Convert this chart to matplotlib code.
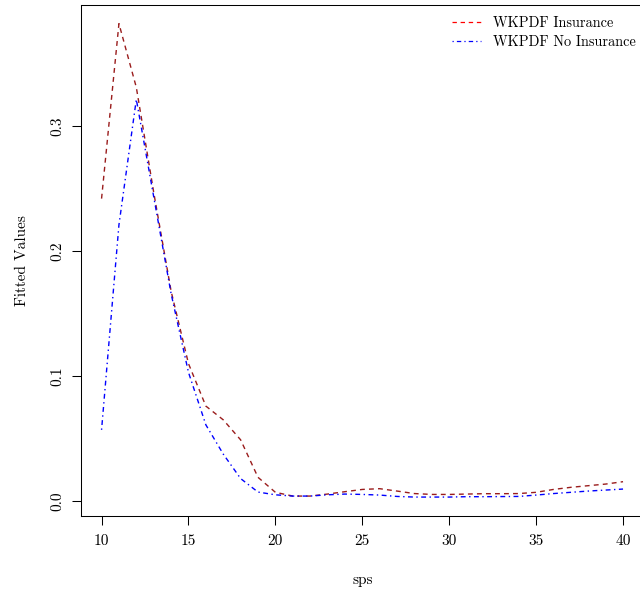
import matplotlib
matplotlib.use("Agg")
import matplotlib.pyplot as plt
from matplotlib.lines import Line2D

plt.rcParams["font.family"] = ["cmr10", "DejaVu Serif"]
plt.rcParams["axes.unicode_minus"] = False
plt.rcParams["axes.formatter.use_mathtext"] = True

# Fitted kernel density values over sps
sps = list(range(10, 41))
insurance = [0.242, 0.382, 0.331, 0.247, 0.168, 0.110, 0.076, 0.065, 0.049, 0.019,
             0.007, 0.004, 0.004, 0.0056, 0.0075, 0.0093, 0.0099, 0.008, 0.006, 0.0053,
             0.0053, 0.0056, 0.0059, 0.0059, 0.006, 0.007, 0.0093, 0.011, 0.0123, 0.0136,
             0.0155]
no_insurance = [0.057, 0.221, 0.3214, 0.2435, 0.166, 0.103, 0.061, 0.0376, 0.018, 0.0072,
                0.005, 0.004, 0.004, 0.005, 0.0056, 0.0053, 0.0048, 0.0037, 0.0032, 0.0032,
                0.0032, 0.0035, 0.0035, 0.0036, 0.0037, 0.0048, 0.006, 0.007, 0.008, 0.0088,
                0.0096]
x_ticks = [10, 15, 20, 25, 30, 35, 40]
y_ticks = [0.0, 0.1, 0.2, 0.3]
y_tick_labels = ["0.0", "0.1", "0.2", "0.3"]
labels = ["WKPDF Insurance", "WKPDF No Insurance"]

dash_ins = (0, (3.5, 3))
dash_no = (0, (1, 2.5, 3.5, 2.5))

fig = plt.figure(figsize=(6.4, 5.92), dpi=100)
ax = fig.add_axes([80.7 / 640, 76 / 592, (643.9 - 80.7) / 640, (516 - 4.7) / 592])

ax.plot(sps, insurance, color="#9a1c1c", lw=1.0, linestyle=dash_ins)
ax.plot(sps, no_insurance, color="blue", lw=1.0, linestyle=dash_no)

# R-style 4% axis padding
lo = min(min(insurance), min(no_insurance))
hi = max(max(insurance), max(no_insurance))
pad = 0.04 * (hi - lo)
ax.set_ylim(lo - pad, hi + pad)
xpad = 0.04 * (max(sps) - min(sps))
ax.set_xlim(min(sps) - xpad, max(sps) + xpad)

ax.set_xticks(x_ticks)
ax.set_xticklabels([str(t) for t in x_ticks])
ax.set_yticks(y_ticks)
ax.set_yticklabels(y_tick_labels, rotation=90, va="center")
ax.tick_params(direction="out", length=6.5, width=0.75, labelsize=11)
ax.tick_params(axis="x", pad=7)
ax.tick_params(axis="y", pad=5)

for side in ["top", "left", "bottom", "right"]:
    ax.spines[side].set_linewidth(0.75)

ax.set_xlabel("sps", fontsize=11, labelpad=18)
ax.set_ylabel("Fitted Values", fontsize=11, labelpad=16)

handles = [Line2D([], [], color="red", lw=0.9, linestyle=dash_ins),
           Line2D([], [], color="blue", lw=0.9, linestyle=dash_no)]
fig.legend(handles, labels, loc="upper left", bbox_to_anchor=(452 / 640, 1 - 16.5 / 592),
           frameon=False, fontsize=10.3, handlelength=2.0, handletextpad=0.85,
           labelspacing=0.35, borderpad=0, borderaxespad=0)

fig.savefig("out.png", dpi=100)
